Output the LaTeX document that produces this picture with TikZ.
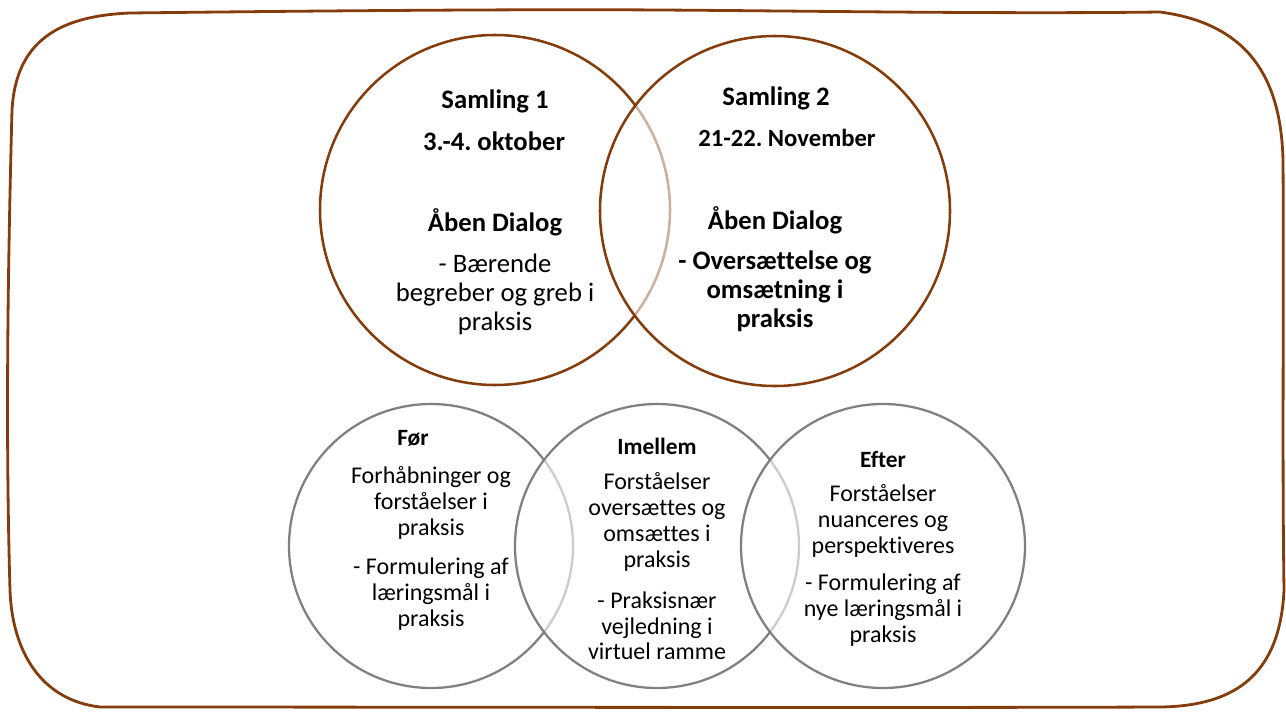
\documentclass[tikz,border=0pt]{standalone}
\usepackage{fontspec}
\setmainfont{Carlito}[Ligatures=CommonOff]
\definecolor{framebrown}{RGB}{132,60,12}
\definecolor{ringgrey}{RGB}{128,128,128}
\frenchspacing
\begin{document}
\begin{tikzpicture}[x=0.75pt,y=-0.75pt,
  toptxt/.style={align=center,inner sep=0pt,font=\fontsize{20}{21.75}\selectfont},
  toptitle/.style={toptxt,font=\fontsize{20}{21.75}\selectfont\bfseries},
  lowtxt/.style={align=center,inner sep=0pt,font=\fontsize{18}{19.3}\selectfont},
  lowtitle/.style={lowtxt,font=\fontsize{17.5}{19.3}\selectfont\bfseries},
  samring/.style={draw=framebrown,line width=1.9pt},
  phasering/.style={draw=ringgrey,line width=1.7pt},
  overlay fill/.style={fill=white,fill opacity=0.6}]
\useasboundingbox (0,0) rectangle (1286,711);
% hand drawn frame
\draw[framebrown,line width=2.1pt]
  (130,13) .. controls (300,11) and (520,9) .. (660,10)
  .. controls (820,11) and (1000,14) .. (1160,12)
  .. controls (1250,24) and (1281,80) .. (1283,160)
  .. controls (1284,300) and (1282,450) .. (1284,590)
  .. controls (1280,675) and (1235,706) .. (1160,707)
  .. controls (900,708) and (400,707) .. (100,707)
  .. controls (40,700) and (12,650) .. (10,590)
  .. controls (6,450) and (7,300) .. (12,110)
  .. controls (16,40) and (60,16) .. (130,13) -- cycle;
% Samling circles
\coordinate (s1) at (495,210);
\coordinate (s2) at (775,211);
\draw[samring] (s1) circle (175);
\draw[samring,overlay fill] (s2) circle (175);
% phase circles
\coordinate (foer) at (431,546);
\coordinate (imellem) at (657,546);
\coordinate (efter) at (883,546);
\draw[phasering] (foer) circle (142);
\draw[phasering,overlay fill] (imellem) circle (142);
\draw[phasering,overlay fill] (efter) circle (142);
% texts samling 1
\node[toptitle] (s1title) at (495,101) {Samling 1};
\node[toptitle] (s1date) at (494,141) {3.-4. oktober};
\node[toptitle] (s1head) at (495,222) {Åben Dialog};
\node[toptxt] (s1body) at (495,294) {- Bærende\\begreber og greb i\\praksis};
% texts samling 2
\node[toptitle] (s2title) at (776,98) {Samling 2};
\node[toptitle,font=\fontsize{18.5}{21.75}\selectfont\bfseries] (s2date) at (787,138) {21-22. November};
\node[toptitle] (s2head) at (775,220) {Åben Dialog};
\node[toptitle] (s2body) at (775,291) {- Oversættelse og\\omsætning i\\praksis};
% texts foer
\node[lowtitle] (foertitle) at (413,438) {Før};
\node[lowtxt] (foerbody) at (431,503) {Forhåbninger og\\forståelser i\\praksis};
\node[lowtxt] (foergoal) at (431,594) {- Formulering af\\læringsmål i\\praksis};
% texts imellem
\node[lowtitle] (imtitle) at (657,446) {Imellem};
\node[lowtxt] (imbody) at (657,522) {Forståelser\\oversættes og\\omsættes i\\praksis};
\node[lowtxt] (imguide) at (657,626) {- Praksisnær\\vejledning i\\virtuel ramme};
% texts efter
\node[lowtitle] (eftitle) at (883,459) {Efter};
\node[lowtxt] (efbody) at (883,521) {Forståelser\\nuanceres og\\perspektiveres};
\node[lowtxt] (efgoal) at (883,610) {- Formulering af\\nye læringsmål i\\praksis};
\end{tikzpicture}
\end{document}
